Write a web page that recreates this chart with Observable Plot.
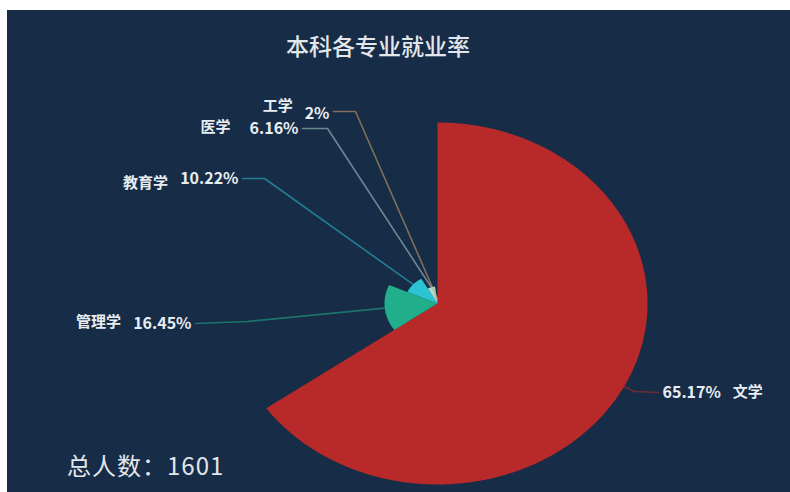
<!DOCTYPE html>
<html><head><meta charset="utf-8">
<script src="https://cdn.jsdelivr.net/npm/d3@7"></script>
<script src="https://cdn.jsdelivr.net/npm/@observablehq/plot@0.6"></script>
<style>
html,body{margin:0;padding:0;background:#fff;}
#wrap{position:absolute;left:7px;top:10px;width:783px;height:482px;background:#172c46;overflow:hidden;font-family:"Noto Sans CJK SC",sans-serif;}
#chart{position:absolute;left:0;top:0;}
#title{position:absolute;left:0;width:742px;top:22px;text-align:center;color:#e3e7eb;font-size:23px;line-height:26px;font-weight:500;}
#total{position:absolute;left:60px;top:441px;color:#e3e7eb;font-size:24px;line-height:28px;letter-spacing:1px;}
</style></head><body>
<div id="wrap"><div id="chart"></div><div id="title"></div><div id="total"></div></div>
<script>
// ---- data ----
const titleText = "本科各专业就业率";
const categories = ["文学", "管理学", "教育学", "医学", "工学"];
const values = [65.17, 16.45, 10.22, 6.16, 2];
const totalPeople = 1601;
// ---- styles ----
const colors = ["#b82a29", "#21ae8b", "#2cc3d5", "#a9d8cf", "#dba670"];
// ---- layout (container pixels) ----
const W = 783, H = 482, CX = 430, CY = 293, RX = 210, RY = 181;
const labelLayout = [
  {elbow: [627, 381], end: [651, 382], side: 1, nameDy: 0, pctDy: 0, gap: 12},
  {elbow: [240, 311], end: [188, 313], side: -1, nameDy: -1, pctDy: 0, gap: 12},
  {elbow: [257, 168], end: [235, 168], side: -1, nameDy: 5, pctDy: 0, gap: 12},
  {elbow: [320, 118], end: [295, 118], side: -1, nameDy: -1, pctDy: 0, gap: 19},
  {elbow: [348, 101], end: [326, 101], side: -1, nameDy: -5, pctDy: 2, gap: 12}
];

document.getElementById("title").textContent = titleText;
document.getElementById("total").textContent = "总人数：" + totalPeople;

const vmax = d3.max(values);
const sum = d3.sum(values);
const kx = vmax / RX, ky = vmax / RY;
const px2x = p => (p - CX) * kx;
const py2y = p => (CY - p) * ky;

// slice polygons
const slices = [];
let cum = 0;
const mids = [];
values.forEach((v, i) => {
  const a0 = cum / sum * 2 * Math.PI;
  cum += v;
  const a1 = cum / sum * 2 * Math.PI;
  mids.push((a0 + a1) / 2);
  const pts = [{x: 0, y: 0}];
  const n = Math.max(2, Math.ceil((a1 - a0) / (Math.PI / 360)));
  for (let k = 0; k <= n; k++) {
    const a = a0 + (a1 - a0) * k / n;
    pts.push({x: v * Math.sin(a), y: v * Math.cos(a)});
  }
  pts.push({x: 0, y: 0});
  slices.push(pts);
});

// label lines
const lineData = [];
categories.forEach((c, i) => {
  const v = values[i], m = mids[i], L = labelLayout[i];
  lineData.push({k: c, x: v * Math.sin(m), y: v * Math.cos(m), color: colors[i]});
  lineData.push({k: c, x: px2x(L.elbow[0]), y: py2y(L.elbow[1]), color: colors[i]});
  lineData.push({k: c, x: px2x(L.end[0]), y: py2y(L.end[1]), color: colors[i]});
});

const FONT = 16;
const WEIGHT = 600;
const ctx = document.createElement("canvas").getContext("2d");
ctx.font = `${WEIGHT} ${FONT}px "Noto Sans CJK SC"`;
const pctText = values.map(v => `${v}%`);
const labels = categories.map((c, i) => {
  const L = labelLayout[i];
  const pw = ctx.measureText(pctText[i]).width;
  return {
    name: c, pct: pctText[i], side: L.side,
    x: px2x(L.end[0] + L.side * 4), y: py2y(L.end[1] + L.pctDy),
    nx: px2x(L.end[0] + L.side * (4 + pw + L.gap)), ny: py2y(L.end[1] + L.nameDy)
  };
});
const leftLabels = labels.filter(d => d.side < 0);
const rightLabels = labels.filter(d => d.side > 0);
const txt = {fill: "#e8edf2", fontSize: FONT, fontWeight: WEIGHT, fontFamily: "Noto Sans CJK SC"};

const marks = slices.map((pts, i) => Plot.line(pts, {x: "x", y: "y", fill: colors[i], stroke: "none", curve: "linear"}));
marks.push(Plot.line(lineData, {x: "x", y: "y", z: "k", stroke: "color", strokeOpacity: 0.55, strokeWidth: 1.6}));
marks.push(Plot.text(leftLabels, {x: "x", y: "y", text: "pct", textAnchor: "end", ...txt}));
marks.push(Plot.text(leftLabels, {x: "nx", y: "ny", text: "name", textAnchor: "end", ...txt, fontSize: FONT - 1}));
marks.push(Plot.text(rightLabels, {x: "x", y: "y", text: "pct", textAnchor: "start", ...txt}));
marks.push(Plot.text(rightLabels, {x: "nx", y: "ny", text: "name", textAnchor: "start", ...txt, fontSize: FONT - 1}));

const chart = Plot.plot({
  width: W, height: H,
  margin: 0,
  x: {domain: [px2x(0), px2x(W)], axis: null},
  y: {domain: [py2y(H), py2y(0)], axis: null},
  style: {background: "transparent", fontFamily: "Noto Sans CJK SC"},
  marks
});
document.getElementById("chart").appendChild(chart);
</script>
</body></html>
